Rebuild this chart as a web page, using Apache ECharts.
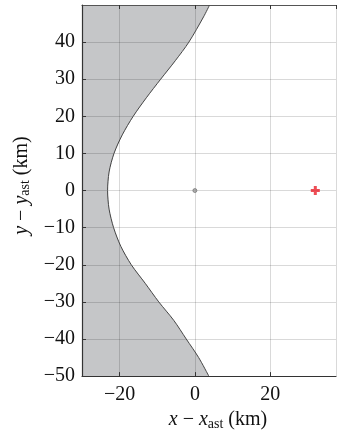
<!DOCTYPE html>
<html>
<head>
<meta charset="utf-8">
<script src="https://cdn.jsdelivr.net/npm/echarts@6/dist/echarts.min.js"></script>
<style>
  html, body { margin: 0; padding: 0; background: #fff; }
  #main { width: 337px; height: 436px; }
</style>
</head>
<body>
<div id="main"></div>
<script>
// boundary of the shaded region (km)
var boundaryY = [50, 46.8, 40, 35, 30, 25, 20, 15, 10, 5, 0, -5, -10, -15, -20, -25, -30, -35, -40, -45, -50];
var boundaryX = [3.9, 2.3, -1.6, -5.2, -9.1, -12.9, -16.4, -19.3, -21.5, -22.8, -23.2, -22.8, -21.6, -19.7, -16.9, -13.2, -9.6, -5.6, -2.3, 1.0, 3.7];
// asteroid and spacecraft positions
var asteroidPos = [[0, 0]];
var craftPos = [[32, 0]];
// axis ranges
var xRange = [-30, 37.5];
var yRange = [-50, 50];

(function () {
    var chart = echarts.init(document.getElementById('main'));
    var font = 'Liberation Serif';
    var minus = function (v) { return String(v).replace('-', '\u2212'); };

    var edge = boundaryX.map(function (x, i) { return [x, boundaryY[i]]; });

    var option = {
        animation: false,
        textStyle: { fontFamily: font },
        grid: { left: 82, top: 5, right: 1, bottom: 54 },
        xAxis: [
            {
                type: 'value',
                min: xRange[0],
                max: xRange[1],
                splitNumber: 3,
                name: '{i|x} \u2212 {i|x}{s|ast} (km)',
                nameLocation: 'middle',
                nameGap: 28,
                nameTextStyle: {
                    fontFamily: font, fontSize: 20, color: '#111',
                    padding: [0, 0, 0, 18],
                    rich: {
                        i: { fontFamily: font, fontSize: 20, fontStyle: 'italic', color: '#111' },
                        s: { fontFamily: font, fontSize: 14, color: '#111', verticalAlign: 'bottom', padding: [8, 0, 0, 0] }
                    }
                },
                axisLine: { show: true, onZero: false, lineStyle: { color: '#333', width: 1.2 } },
                axisTick: { show: true, inside: true, length: 4, lineStyle: { color: '#333' } },
                axisLabel: {
                    showMinLabel: false, showMaxLabel: false,
                    fontFamily: font, fontSize: 20, color: '#111', margin: 9,
                    formatter: minus
                },
                splitLine: { show: true, lineStyle: { color: 'rgba(0,0,0,0.15)', width: 1 } }
            },
            {
                type: 'value',
                position: 'top',
                min: xRange[0],
                max: xRange[1],
                splitNumber: 3,
                axisLine: { show: true, onZero: false, lineStyle: { color: '#555', width: 1.2 } },
                axisTick: { show: true, inside: true, length: 4, lineStyle: { color: '#333' } },
                axisLabel: { show: false },
                splitLine: { show: false }
            }
        ],
        yAxis: {
            type: 'value',
            min: yRange[0],
            max: yRange[1],
            interval: 10,
            name: '{i|y} \u2212 {i|y}{s|ast} (km)',
            nameLocation: 'middle',
            nameGap: 48,
            nameRotate: 90,
            nameTextStyle: {
                fontFamily: font, fontSize: 20, color: '#111',
                padding: [0, 0, 0, 10],
                rich: {
                    i: { fontFamily: font, fontSize: 20, fontStyle: 'italic', color: '#111' },
                    s: { fontFamily: font, fontSize: 14, color: '#111', verticalAlign: 'bottom', padding: [8, 0, 0, 0] }
                }
            },
            axisLine: { show: true, onZero: false, lineStyle: { color: '#333', width: 1.2 } },
            axisTick: { show: true, inside: true, length: 4, lineStyle: { color: '#333' } },
            axisLabel: {
                showMaxLabel: false,
                fontFamily: font, fontSize: 20, color: '#111', margin: 7,
                formatter: minus
            },
            splitLine: { show: true, lineStyle: { color: 'rgba(0,0,0,0.15)', width: 1 } }
        },
        series: [
            {
                // shaded region left of the boundary
                type: 'custom',
                z: -1,
                clip: true,
                data: [[0, 0]],
                renderItem: function (params, api) {
                    var pts = edge.map(function (p) { return api.coord(p); });
                    pts.push(api.coord([xRange[0], yRange[0]]));
                    pts.push(api.coord([xRange[0], yRange[1]]));
                    return {
                        type: 'polygon',
                        shape: { points: pts },
                        style: { fill: '#c5c6c8', stroke: null }
                    };
                },
                silent: true
            },
            {
                type: 'line',
                data: edge,
                smooth: 0.3,
                showSymbol: false,
                lineStyle: { color: '#444', width: 1 },
                silent: true
            },
            {
                type: 'scatter',
                data: asteroidPos,
                symbol: 'circle',
                symbolSize: 4,
                itemStyle: { color: '#9a9a9a', borderColor: '#666', borderWidth: 0.8 }
            },
            {
                type: 'scatter',
                data: craftPos,
                symbol: 'path://M3,0H6V3H9V6H6V9H3V6H0V3H3Z',
                symbolSize: 9,
                itemStyle: { color: '#e8202a' }
            }
        ]
    };
    chart.setOption(option);
})();
</script>
</body>
</html>
